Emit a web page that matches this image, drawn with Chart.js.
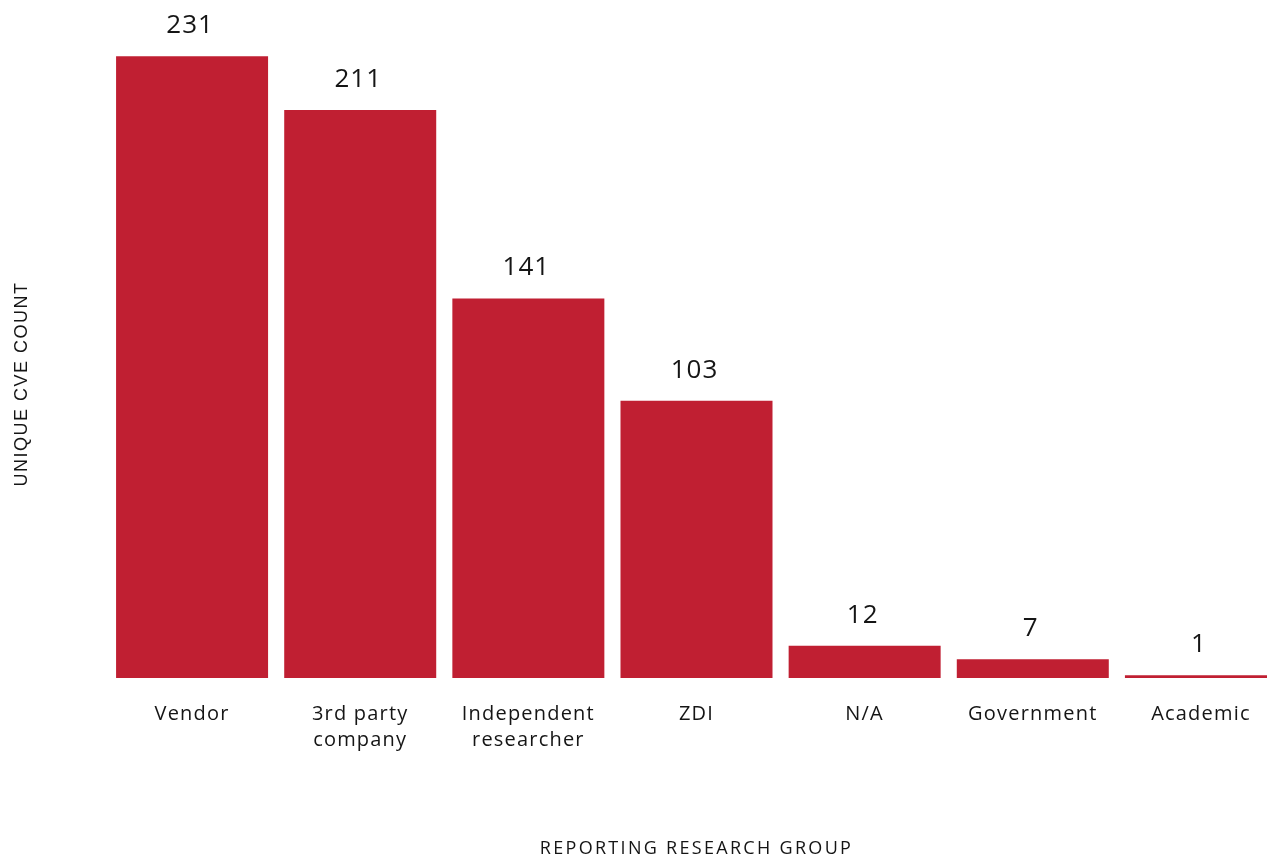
<!DOCTYPE html>
<html>
<head>
<meta charset="utf-8">
<script src="https://cdn.jsdelivr.net/npm/chart.js@4/dist/chart.umd.min.js"></script>
<style>
    html, body { margin: 0; padding: 0; background: #fff; overflow: hidden; }
    #wrap { position: relative; width: 1290px; height: 860px; }
</style>
</head>
<body>
<div id="wrap"><canvas id="cveChart"></canvas></div>
<script>
const groups = ["Vendor", ["3rd party", "company"], ["Independent", "researcher"], "ZDI", "N/A", "Government", "Academic"];
const cveCounts = [231, 211, 141, 103, 12, 7, 1];

const BAR_RED = "#C01F32";
const TEXT = "#151515";
const FONT = "'Open Sans', 'Noto Sans', sans-serif";

// value above each bar + the two axis titles
const labelsPlugin = {
    id: "cveLabels",
    beforeDraw(chart) {
        // wider letter spacing for the category ticks
        chart.ctx.letterSpacing = "1.2px";
    },
    afterDatasetsDraw(chart) {
        const ctx = chart.ctx;
        const meta = chart.getDatasetMeta(0);
        ctx.save();
        ctx.fillStyle = TEXT;
        ctx.letterSpacing = "1px";
        ctx.font = "26px " + FONT;
        ctx.textAlign = "center";
        ctx.textBaseline = "alphabetic";
        meta.data.forEach((bar, i) => {
            ctx.fillText(String(cveCounts[i]), bar.x - 2, bar.y - 23);
        });

        const area = chart.chartArea;
        ctx.font = "18px " + FONT;
        ctx.letterSpacing = "2.3px";
        ctx.textBaseline = "middle";
        ctx.fillText("REPORTING RESEARCH GROUP", (area.left + area.right) / 2, 849);

        ctx.translate(22, 384);
        ctx.rotate(-Math.PI / 2);
        ctx.font = "18px 'Liberation Sans', Arial, sans-serif";
        ctx.letterSpacing = "1.5px";
        ctx.fillText("UNIQUE CVE COUNT", 0, 0);
        ctx.restore();
    },
    afterDraw(chart) {
        chart.ctx.letterSpacing = "0px";
    }
};

new Chart(document.getElementById("cveChart"), {
    type: "bar",
    data: {
        labels: groups,
        datasets: [{ data: cveCounts, backgroundColor: BAR_RED, borderWidth: 0, barPercentage: 0.904, categoryPercentage: 1 }]
    },
    options: {
        responsive: true, maintainAspectRatio: false, animation: false,
        layout: { padding: { left: 108, right: 5, top: 32, bottom: 0 } },
        plugins: { legend: { display: false }, tooltip: { enabled: false } },
        scales: {
            x: {
                grid: { display: false, drawTicks: false },
                border: { display: false },
                ticks: { color: TEXT, font: { family: FONT, size: 20, lineHeight: 1.3 }, padding: 23, maxRotation: 0, autoSkip: false },
                afterFit: s => { s.height = 182; }
            },
            y: { display: false, min: 0, max: 240 }
        }
    },
    plugins: [labelsPlugin]
});
</script>
</body>
</html>
